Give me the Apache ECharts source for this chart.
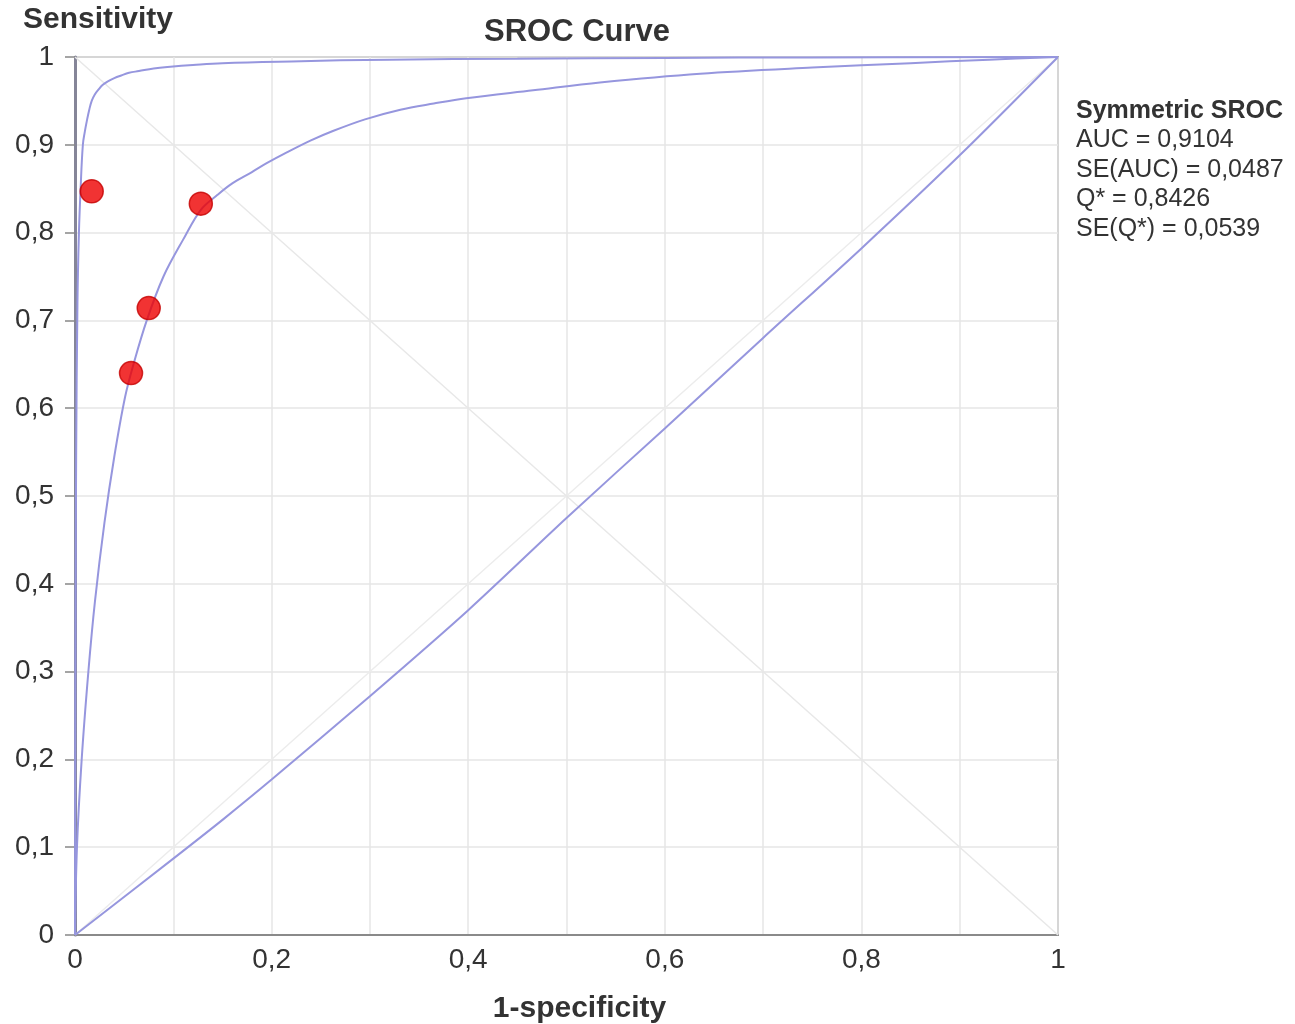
<!DOCTYPE html>
<html>
<head>
<meta charset="utf-8">
<script src="https://cdn.jsdelivr.net/npm/echarts@6/dist/echarts.min.js"></script>
<style>
html,body{margin:0;padding:0;background:#fff;}
#chart{width:1295px;height:1024px;}
</style>
</head>
<body>
<div id="chart"></div>
<script>
// ---- data ----
const studyPoints = [[0.017, 0.847], [0.128, 0.833], [0.075, 0.714], [0.057, 0.640]];

const srocCurve = [[0,0],[0.002,0.1],[0.0068,0.2],[0.0136,0.3],[0.0203,0.38],[0.03,0.47],[0.04,0.545],
  [0.051,0.613],[0.06,0.652],[0.073,0.70],[0.09,0.75],[0.11,0.792],[0.128,0.826],[0.145,0.843],
  [0.16,0.856],[0.18,0.869],[0.195,0.879],[0.215,0.891],[0.24,0.905],[0.263,0.916],[0.295,0.929],
  [0.331,0.94],[0.365,0.947],[0.398,0.953],[0.466,0.962],[0.534,0.971],[0.636,0.981],
  [0.75,0.988],[0.85,0.993],[0.93,0.997],[1,1]];

const upperCurve = [[0,0],[0.0002,0.18],[0.0006,0.38],[0.0012,0.55],[0.0025,0.72],[0.004,0.8],
  [0.0057,0.85],[0.008,0.9],[0.01,0.915],[0.012,0.927],[0.0145,0.94],[0.017,0.95],[0.02,0.957],
  [0.024,0.963],[0.028,0.968],[0.033,0.972],[0.04,0.976],[0.047,0.979],[0.055,0.982],[0.065,0.984],
  [0.08,0.987],[0.097,0.989],[0.12,0.991],[0.15,0.993],[0.22,0.995],[0.32,0.997],[0.45,0.998],
  [0.6,0.999],[0.75,0.9995],[1,1]];

const lowerCurve = [[0,0],[0.1,0.087],[0.151,0.132],[0.2,0.177],[0.3,0.272],[0.4,0.37],[0.5,0.475],
  [0.6,0.577],[0.7,0.68],[0.8,0.782],[0.9,0.888],[1,1]];

const diagonal = [[0,0],[1,1]];
const antiDiagonal = [[0,1],[1,0]];

const xTickLabels = ['0','','0,2','','0,4','','0,6','','0,8','','1'];
const yTickLabels = ['0','0,1','0,2','0,3','0,4','0,5','0,6','0,7','0,8','0,9','1'];

const statTitle = 'Symmetric SROC';
const statLines = ['AUC = 0,9104', 'SE(AUC) = 0,0487', 'Q* = 0,8426', 'SE(Q*) = 0,0539'];

// ---- chart ----
const FONT = '"Liberation Sans", Arial, sans-serif';
const curveColor = '#9696de';
const chart = echarts.init(document.getElementById('chart'), null, {renderer: 'canvas'});

function idx(v){ return Math.round(v * 10); }

chart.setOption({
  backgroundColor: '#ffffff',
  animation: false,
  title: {
    text: 'SROC Curve',
    left: 479, top: 12,
    textStyle: {fontFamily: FONT, fontSize: 31, fontWeight: 'bold', color: '#333'}
  },
  grid: {
    left: 75, right: 237, top: 57, bottom: 89,
    containLabel: false, outerBoundsMode: 'none',
    show: true, borderColor: '#a8a8a8', borderWidth: 2, backgroundColor: '#fff'
  },
  xAxis: {
    type: 'value', min: 0, max: 1, interval: 0.1,
    name: '1-specificity', nameLocation: 'middle', nameGap: 59,
    nameTextStyle: {fontFamily: FONT, fontSize: 30, fontWeight: 'bold', color: '#333', padding: [0,0,0,26]},
    axisLine: {show: true, onZero: false, lineStyle: {color: '#8a8a8a', width: 2}},
    axisTick: {show: false},
    axisLabel: {
      margin: 11, fontFamily: FONT, fontSize: 28, color: '#333',
      formatter: v => xTickLabels[idx(v)] || ''
    },
    splitLine: {show: true, lineStyle: {color: '#e6e6e6', width: 1.5}}
  },
  yAxis: {
    type: 'value', min: 0, max: 1, interval: 0.1,
    name: 'Sensitivity', nameLocation: 'end', nameGap: 22,
    nameTextStyle: {fontFamily: FONT, fontSize: 30, fontWeight: 'bold', color: '#333', align: 'center', padding: [0,0,0,46]},
    axisLine: {show: true, onZero: false, lineStyle: {color: '#858598', width: 3}},
    axisTick: {show: true, length: 10, lineStyle: {color: '#888', width: 1.5}},
    axisLabel: {
      margin: 21, fontFamily: FONT, fontSize: 28, color: '#333',
      formatter: v => yTickLabels[idx(v)]
    },
    splitLine: {show: true, lineStyle: {color: '#e6e6e6', width: 1.5}}
  },
  graphic: [{
    type: 'text', left: 1076, top: 96, z: 10,
    style: {
      text: '{b|' + statTitle + '}\n' + statLines.join('\n'),
      fontFamily: FONT, fontSize: 25, fill: '#333', lineHeight: 29.5,
      rich: {b: {fontFamily: FONT, fontSize: 25, fontWeight: 'bold', fill: '#333', lineHeight: 29.5}}
    }
  }],
  series: [
    {type: 'line', data: diagonal, showSymbol: false, silent: true, z: 1,
     lineStyle: {color: '#ececec', width: 1.5}},
    {type: 'line', data: antiDiagonal, showSymbol: false, silent: true, z: 1,
     lineStyle: {color: '#e8e8e8', width: 1.5}},
    {type: 'line', data: lowerCurve, showSymbol: false, silent: true, z: 2, smooth: 0.3,
     lineStyle: {color: curveColor, width: 2}},
    {type: 'line', data: srocCurve, showSymbol: false, silent: true, z: 2, smooth: 0.35,
     lineStyle: {color: curveColor, width: 2}},
    {type: 'line', data: upperCurve, showSymbol: false, silent: true, z: 2, smooth: 0.4,
     lineStyle: {color: curveColor, width: 2}},
    {type: 'scatter', data: studyPoints, symbol: 'circle', symbolSize: 23, z: 5,
     itemStyle: {color: '#ee0000', borderColor: '#c40000', borderWidth: 1.5}}
  ]
});
</script>
</body>
</html>
